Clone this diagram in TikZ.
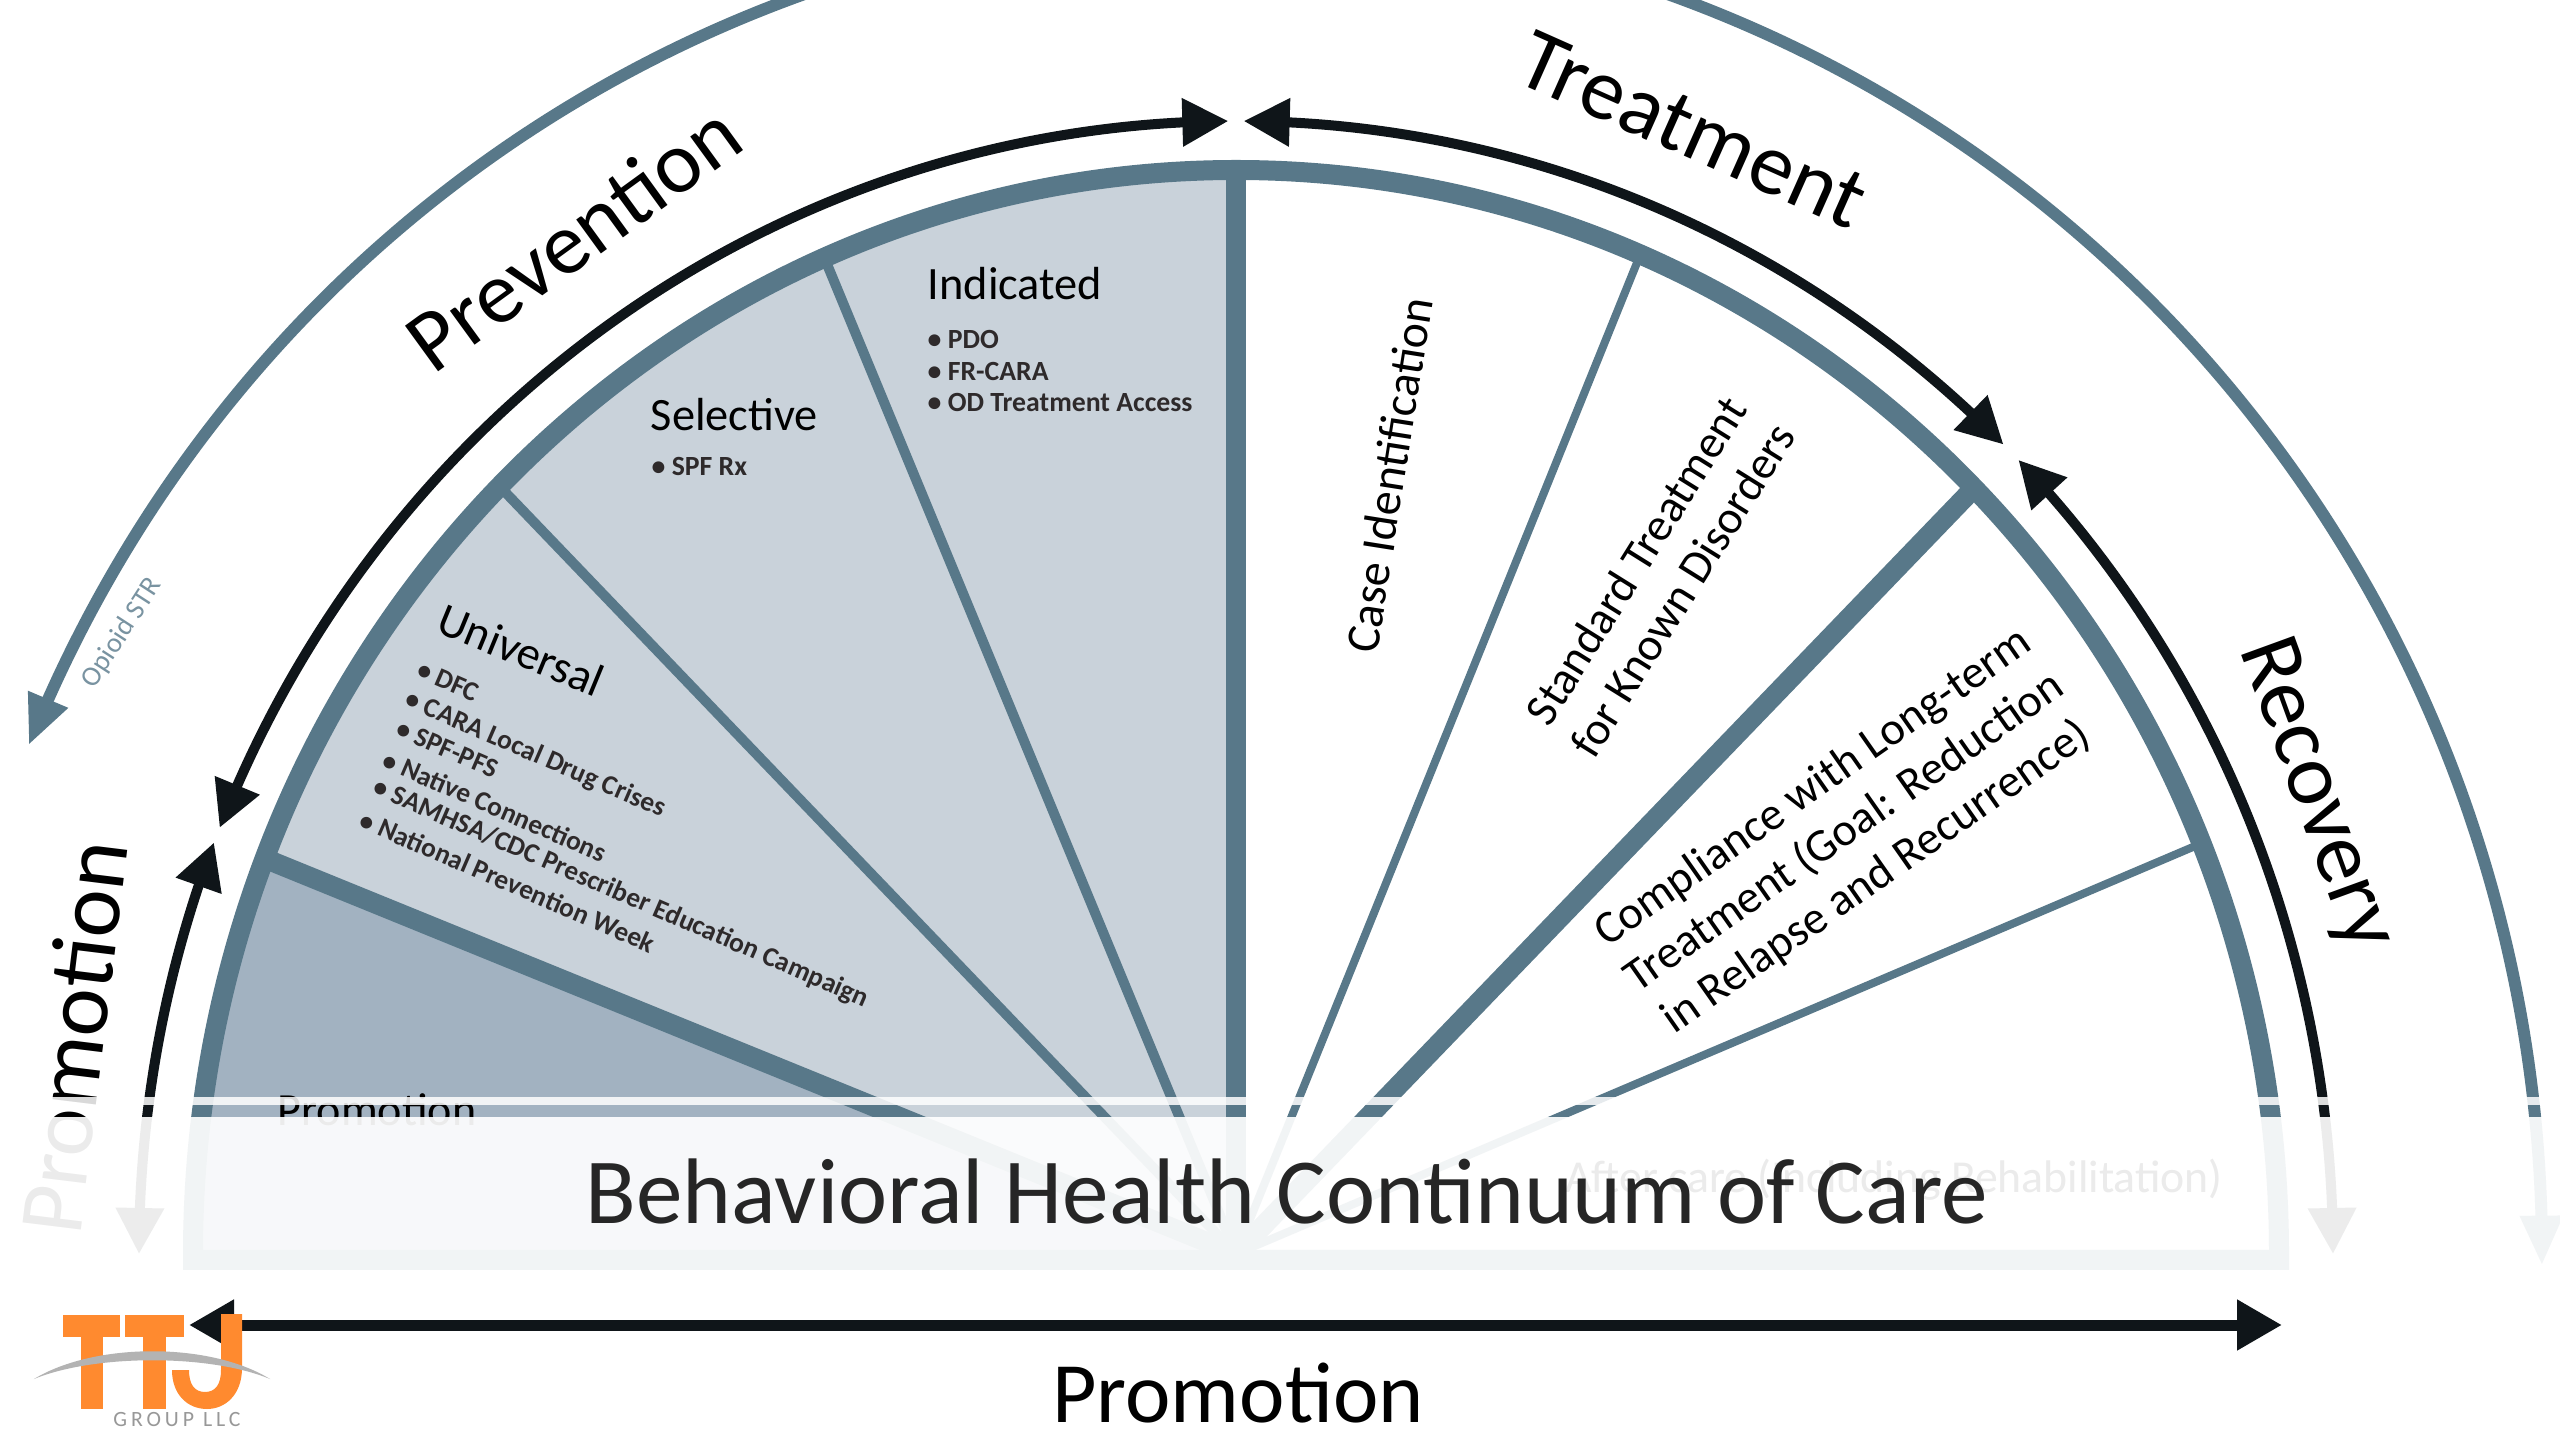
\documentclass[tikz,border=0pt]{standalone}
\usepackage{fontspec}
\setmainfont{Carlito}
\usetikzlibrary{arrows.meta,bending,calc}
\definecolor{ringc}{HTML}{587889}
\definecolor{prevc}{HTML}{C9D2DA}
\definecolor{promc}{HTML}{A2B2C1}
\definecolor{inkc}{HTML}{0F1519}
\definecolor{logoc}{HTML}{FF8A2F}
\definecolor{greyc}{HTML}{B3B3B3}
\definecolor{bulc}{HTML}{2E2A2B}
\newcommand{\rx}{10.43}
\newcommand{\ry}{10.84}
\tikzset{
  blackarc/.style={draw=inkc,line width=.10cm},
  tbt/.style={{Triangle[length=.46cm,width=.46cm]}-{Triangle[length=.46cm,width=.46cm]}},
  tealarc/.style={draw=ringc,line width=.12cm},
  thinspoke/.style={draw=ringc,line width=.10cm},
  thickspoke/.style={draw=ringc,line width=.20cm},
  big/.style={inner sep=0,font=\fontsize{25}{30}\selectfont,text=black},
  mid/.style={inner sep=0,font=\fontsize{13.2}{15.6}\selectfont,text=black,align=center},
  bul/.style={inner sep=0,anchor=west,font=\fontsize{7.9}{10}\selectfont\bfseries,text=bulc},
}
\begin{document}
\begin{tikzpicture}
\useasboundingbox (0,0) rectangle (25.6,14.4);
\clip (0,0) rectangle (25.6,14.4);
\coordinate (c) at (12.36,1.86);
\coordinate (r1) at (16.376,11.788);
\coordinate (r2) at (19.723,9.502);
\coordinate (r3) at (21.96,5.943);
\coordinate (l1) at (2.612,5.829);
\coordinate (l2) at (5.029,9.502);
\coordinate (l3) at (8.278,11.739);
\coordinate (top) at (12.36,12.70);
% wedges
\begin{scope}
  \clip (c) ++(0:\rx) arc[start angle=0,end angle=180,x radius=\rx,y radius=\ry] -- ++(0,-.06) -- (22.79,1.80) -- cycle;
  \fill[prevc] (c) -- ($(c)!1.1!(l1)$) -- (0,14.4) -- (12.36,14.4) -- cycle;
  \fill[promc] (c) -- ($(c)!1.1!(l1)$) -- (0,1.8) -- (12.36,1.8) -- cycle;
  \draw[thickspoke] (c) -- (l1);
  \draw[thinspoke] (c) -- (l2);
  \draw[thinspoke] (c) -- (l3);
  \draw[thickspoke] (c) -- (top);
  \draw[thinspoke,line width=.08cm] (c) -- (r1);
  \draw[thickspoke] (c) -- (r2);
  \draw[thinspoke,line width=.08cm] (c) -- (r3);
\end{scope}
\draw[draw=ringc,line width=.20cm] (c) ++(0:\rx) arc[start angle=0,end angle=180,x radius=\rx,y radius=\ry] -- ++(0,-.06) -- (22.79,1.80) -- cycle;
% arcs
\draw[tealarc,{Triangle[length=.5cm,width=.40cm]}-{Triangle[length=.5cm,width=.40cm]}] (c) ++(157.6:13.06 and 13.35) arc[start angle=157.6,end angle=-.5,x radius=13.06,y radius=13.35];
\draw[blackarc,tbt] (c) ++(157.9:10.97 and 11.33) arc[start angle=157.9,end angle=90.4,x radius=10.97,y radius=11.33];
\draw[blackarc,tbt] (c) ++(45.6:10.97 and 11.33) arc[start angle=45.6,end angle=89.6,x radius=10.97,y radius=11.33];
\draw[blackarc,tbt] (c) ++(44.5:10.97 and 11.33) arc[start angle=44.5,end angle=0,x radius=10.97,y radius=11.33];
\draw[blackarc,tbt] (c) ++(158.7:10.97 and 11.33) arc[start angle=158.7,end angle=180,x radius=10.97,y radius=11.33];
% labels
\node[big,rotate=36] (prevention) at (5.73,12.03) {Prevention};
\node[big,rotate=-24] (treatment) at (16.93,13.10) {Treatment};
\node[big,rotate=-70] (recovery) at (23.15,6.45) {Recovery};
\node[big,rotate=83,font=\fontsize{26}{30}\selectfont] (promleft) at (.73,4.03) {Promotion};
\node[inner sep=0,rotate=57,text=ringc!80!white,font=\fontsize{8}{10}\selectfont] (opioid) at (1.22,8.07) {Opioid STR};
\node[mid,anchor=west] (indicated) at (9.27,11.56) {Indicated};
\node[bul] (b1) at (9.27,11.00) {• PDO};
\node[bul] (b2) at (9.27,10.68) {• FR-CARA};
\node[bul] (b3) at (9.27,10.37) {• OD Treatment Access};
\node[mid,anchor=west] (selective) at (6.50,10.25) {Selective};
\node[bul] (b4) at (6.51,9.73) {• SPF Rx};
\node[mid,rotate=-22.4] (universal) at (5.21,7.90) {Universal};
\node[bul,rotate=-23.4,font=\fontsize{7.8}{10}\selectfont\bfseries] (u1) at (4.18,7.72) {• DFC};
\node[bul,rotate=-23.4,font=\fontsize{7.8}{10}\selectfont\bfseries] (u2) at (4.06,7.41) {• CARA Local Drug Crises};
\node[bul,rotate=-23.4,font=\fontsize{7.8}{10}\selectfont\bfseries] (u3) at (3.97,7.13) {• SPF-PFS};
\node[bul,rotate=-23.4,font=\fontsize{7.8}{10}\selectfont\bfseries] (u4) at (3.84,6.82) {• Native Connections};
\node[bul,rotate=-23.4,font=\fontsize{7.8}{10}\selectfont\bfseries] (u5) at (3.74,6.53) {• SAMHSA/CDC Prescriber Education Campaign};
\node[bul,rotate=-23.4,font=\fontsize{7.8}{10}\selectfont\bfseries] (u6) at (3.61,6.22) {• National Prevention Week};
\node[mid,rotate=81,font=\fontsize{13.6}{16}\selectfont] (caseid) at (13.89,9.65) {Case Identification};
\node[mid,rotate=58] (standard) at (16.59,8.65) {Standard Treatment\\for Known Disorders};
\node[mid,rotate=35] (compliance) at (18.45,6.07) {Compliance with Long-term\\Treatment (Goal: Reduction\\in Relapse and Recurrence)};
\node[mid,font=\fontsize{13.1}{15}\selectfont] (prominner) at (3.77,3.30) {Promotion};
\node[mid,font=\fontsize{13}{15}\selectfont] (aftercare) at (18.94,2.60) {After care (Including Rehabilitation)};
% overlay
\fill[white,opacity=.85] (0,3.35) rectangle (25.6,3.43);
\fill[white,opacity=.92] (0,0) rectangle (25.6,3.23);
% title and bottom
\node[inner sep=0,text=black!85,font=\fontsize{26.5}{30}\selectfont] (title) at (12.87,2.48) {Behavioral Health Continuum of Care};
\coordinate (ba) at (1.89,1.15);
\coordinate (bb) at (22.82,1.15);
\draw[draw=inkc,line width=.11cm,{Triangle[length=.45cm,width=.48cm]}-{Triangle[length=.45cm,width=.48cm]}] (ba) -- (bb);
\node[big,font=\fontsize{24.5}{30}\selectfont] (prombottom) at (12.38,.47) {Promotion};
% logo
\fill[logoc] (.63,1.25) rectangle (1.20,1.03);
\fill[logoc] (.81,1.03) rectangle (1.03,.31);
\fill[logoc] (1.25,1.25) rectangle (1.84,1.03);
\fill[logoc] (1.43,1.03) rectangle (1.66,.31);
\fill[logoc] (2.42,1.26) -- (2.42,.72) .. controls (2.42,.45) and (2.25,.31) .. (2.07,.31) .. controls (1.88,.31) and (1.72,.45) .. (1.72,.70) -- (1.89,.70) .. controls (1.89,.55) and (1.95,.48) .. (2.05,.48) .. controls (2.15,.48) and (2.21,.55) .. (2.21,.70) -- (2.21,1.26) -- cycle;
\fill[greyc] (.34,.61) .. controls (.95,.98) and (2.10,.98) .. (2.70,.61) .. controls (2.10,.86) and (.95,.86) .. (.34,.61) -- cycle;
\node[inner sep=0,text=greyc!85!black,font=\fontsize{6.2}{7}\selectfont\addfontfeature{LetterSpace=18}] (group) at (1.77,.20) {GROUP LLC};
\end{tikzpicture}
\end{document}
